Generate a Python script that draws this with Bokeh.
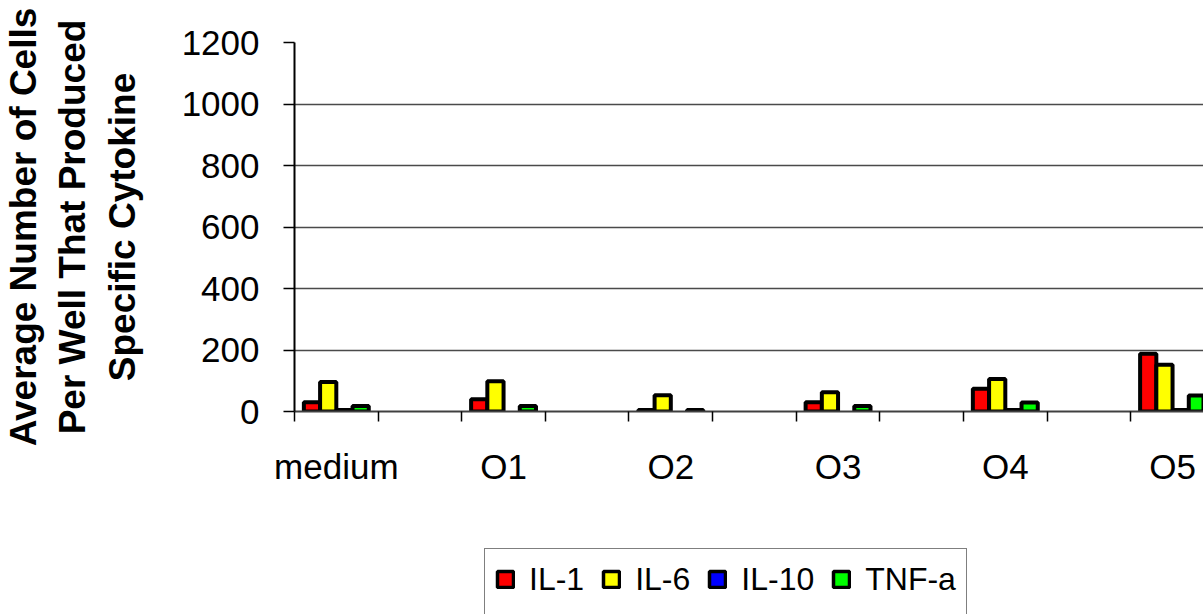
import numpy as np
from bokeh.plotting import figure
from bokeh.layouts import column
from bokeh.models import FixedTicker, Legend, LegendItem, Range1d, ColumnDataSource
from bokeh.embed import file_html
from bokeh.resources import INLINE

nan = float("nan")
# categories (odd slots are unlabeled, empty groups in the original)
categories = ["medium", "", "O1", "", "O2", "", "O3", "", "O4", "", "O5"]
series = ["IL-1", "IL-6", "IL-10", "TNF-a"]
il1 = [30, nan, 40, nan, 5, nan, 30, nan, 74, nan, 188]
il6 = [96, nan, 98, nan, 53, nan, 63, nan, 106, nan, 152]
il10 = [5, nan, nan, nan, nan, nan, nan, nan, 5, nan, 5]
tnfa = [18, nan, 18, nan, 5, nan, 18, nan, 29, nan, 52]
colors = ["#FF0000", "#FFFF00", "#0000FF", "#00FF00"]
y_ticks = [0, 200, 400, 600, 800, 1000, 1200]

FONT = "Liberation Sans"
values = [il1, il6, il10, tnfa]
bar_w = 0.194
offsets = [-1.5 * bar_w, -0.5 * bar_w, 0.5 * bar_w, 1.5 * bar_w]
BAR_LW = 4

p = figure(width=1203, height=545,
           x_range=Range1d(0, 10.87), y_range=Range1d(0, 1200),
           output_backend="svg", toolbar_location=None, min_border=0,
           min_border_left=293, min_border_right=0,
           min_border_top=42, min_border_bottom=134)
p.outline_line_color = None
p.background_fill_color = "white"
p.border_fill_color = "white"

centers = np.arange(len(categories)) + 0.5
for name, vals, col, off in zip(series, values, colors, offsets):
    src = ColumnDataSource(dict(x=centers + off, top=np.array(vals, dtype=float)))
    p.vbar(x="x", top="top", bottom=0, width=bar_w, source=src,
           fill_color=col, line_color="black", line_width=BAR_LW)

# grid
p.xgrid.visible = False
p.ygrid.ticker = FixedTicker(ticks=y_ticks)
p.ygrid.grid_line_color = "#4a4a4a"
p.ygrid.grid_line_width = 1.5

# y axis
ya = p.yaxis[0]
ya.ticker = FixedTicker(ticks=y_ticks)
ya.major_label_text_font = FONT
ya.major_label_text_font_size = "35px"
ya.major_label_text_color = "black"
ya.major_tick_out = 11
ya.major_tick_in = 0
ya.minor_tick_out = 0
ya.minor_tick_in = 0
ya.major_tick_line_color = "black"
ya.major_tick_line_width = 1.5
ya.axis_line_color = "black"
ya.axis_line_width = 2
ya.major_label_standoff = 24
ya.axis_label = "Average Number of Cells\nPer Well That Produced\nSpecific Cytokine"
ya.axis_label_text_font = FONT
ya.axis_label_text_font_style = "bold"
ya.axis_label_text_font_size = "37px"
ya.axis_label_text_color = "black"
ya.axis_label_standoff = 36

# x axis
label_pos = [i + 0.5 for i, c in enumerate(categories) if c]
xa = p.xaxis[0]
xa.ticker = FixedTicker(ticks=label_pos, minor_ticks=list(range(0, len(categories) + 1)))
xa.major_label_overrides = {i + 0.5: c for i, c in enumerate(categories) if c}
xa.major_label_text_font = FONT
xa.major_label_text_font_size = "35px"
xa.major_label_text_color = "black"
xa.major_tick_out = 0
xa.major_tick_in = 0
xa.minor_tick_out = 10
xa.minor_tick_in = 0
xa.minor_tick_line_color = "black"
xa.minor_tick_line_width = 1.5
xa.axis_line_color = "#404040"
xa.axis_line_width = 2
xa.major_label_standoff = 25

# legend strip below the chart (its box runs past the bottom edge, as in the original)
p2 = figure(width=1203, height=69, x_range=Range1d(0, 10.87), y_range=Range1d(0, 1200),
            output_backend="svg", toolbar_location=None,
            x_axis_location=None, y_axis_location=None, min_border=0,
            min_border_left=293, min_border_right=0, min_border_top=0, min_border_bottom=0)
p2.outline_line_color = None
p2.xgrid.visible = False
p2.ygrid.visible = False
# legend proxies: one undefined (NaN) bar each, so only their legend swatches show
proxies = [p2.vbar(x=[nan], top=[nan], bottom=0, width=bar_w,
                   fill_color=col, line_color="black", line_width=3.5)
           for col in colors]
legend = Legend(items=[LegendItem(label=s, renderers=[r]) for s, r in zip(series, proxies)],
                orientation="horizontal", location=(190, -30), margin=0,
                glyph_width=20, glyph_height=20, label_height=40,
                label_text_font=FONT, label_text_font_size="32px", label_text_color="black",
                label_standoff=14, spacing=17, padding=10,
                border_line_color="black", border_line_width=1.5,
                background_fill_color="white", background_fill_alpha=1,
                title=" ", title_location="below", title_text_font_size="30px",
                title_standoff=0)
p2.add_layout(legend, "center")

layout = column(p, p2, spacing=0)
open("out.html", "w").write(file_html(layout, INLINE))
